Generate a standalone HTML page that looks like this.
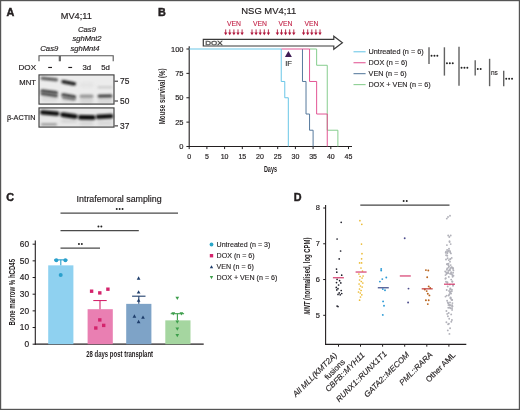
<!DOCTYPE html>
<html><head><meta charset="utf-8"><style>
html,body{margin:0;padding:0;background:#fff;}
body{width:520px;height:410px;overflow:hidden;}
svg{display:block;will-change:transform;font-family:"Liberation Sans", sans-serif;}
</style></head><body>
<svg width="520" height="410" viewBox="0 0 520 410">
<rect x="0" y="0" width="520" height="410" fill="#fff"/>
<text x="6.5" y="15.9" font-size="10.8" text-anchor="start" fill="#231f20" stroke="#231f20" stroke-width="0.45" font-weight="bold" font-style="normal" >A</text>
<text x="60.8" y="19.2" font-size="9.2" text-anchor="start" fill="#231f20" stroke="#231f20" stroke-width="0.18" font-weight="normal" font-style="normal" >MV4;11</text>
<text x="87" y="32.3" font-size="7.7" text-anchor="middle" fill="#231f20" stroke="#231f20" stroke-width="0.18" font-weight="normal" font-style="italic" >Cas9</text>
<text x="87" y="40.9" font-size="7.6" text-anchor="middle" fill="#231f20" stroke="#231f20" stroke-width="0.18" font-weight="normal" font-style="italic" >sghMnt2</text>
<text x="85" y="50.5" font-size="7.6" text-anchor="middle" fill="#231f20" stroke="#231f20" stroke-width="0.18" font-weight="normal" font-style="italic" >sghMnt4</text>
<text x="49.3" y="50.6" font-size="7.7" text-anchor="middle" fill="#231f20" stroke="#231f20" stroke-width="0.18" font-weight="normal" font-style="italic" >Cas9</text>
<path d="M39,61.3 V55.8 H59.3 V61.3" fill="none" stroke="#555" stroke-width="1.1"/>
<path d="M60.3,61.3 V55.8 H113.2 V61.3" fill="none" stroke="#555" stroke-width="1.1"/>
<text x="18.5" y="70.4" font-size="8.1" text-anchor="start" fill="#231f20" stroke="#231f20" stroke-width="0.18" font-weight="normal" font-style="normal" >DOX</text>
<rect x="48.2" y="66.9" width="3.8" height="1.15" fill="#231f20"/>
<rect x="68.3" y="66.9" width="3.8" height="1.15" fill="#231f20"/>
<text x="86.8" y="70.3" font-size="7.8" text-anchor="middle" fill="#231f20" stroke="#231f20" stroke-width="0.18" font-weight="normal" font-style="normal" >3d</text>
<text x="105.5" y="70.3" font-size="7.8" text-anchor="middle" fill="#231f20" stroke="#231f20" stroke-width="0.18" font-weight="normal" font-style="normal" >5d</text>
<text x="19.3" y="85.4" font-size="7.7" text-anchor="start" fill="#231f20" stroke="#231f20" stroke-width="0.18" font-weight="normal" font-style="normal" >MNT</text>
<text x="6.9" y="120.0" font-size="7.3" text-anchor="start" fill="#231f20" stroke="#231f20" stroke-width="0.18" font-weight="normal" font-style="normal" >β-ACTIN</text>
<defs><filter id="bl" x="-20%" y="-200%" width="140%" height="500%"><feGaussianBlur stdDeviation="0.9"/></filter><filter id="bl2" x="-20%" y="-200%" width="140%" height="500%"><feGaussianBlur stdDeviation="1.4"/></filter></defs>
<rect x="39" y="74.9" width="75" height="29.2" fill="#ececec"/>
<rect x="39" y="107.9" width="75" height="19.2" fill="#e8e8e8"/>
<rect x="41" y="95.5" width="17" height="6" rx="3.0" fill="#d8d8d8" opacity="0.8" filter="url(#bl2)" transform="rotate(0 49.5 98.5)"/>
<rect x="61.5" y="97.5" width="14.5" height="5" rx="2.5" fill="#d8d8d8" opacity="0.8" filter="url(#bl2)" transform="rotate(0 68.75 100)"/>
<rect x="79.5" y="97.5" width="14" height="6" rx="3.0" fill="#cfcfcf" opacity="0.8" filter="url(#bl2)" transform="rotate(0 86.5 100.5)"/>
<rect x="97.5" y="97.5" width="15" height="6" rx="3.0" fill="#d2d2d2" opacity="0.8" filter="url(#bl2)" transform="rotate(0 105.0 100.5)"/>
<rect x="79.5" y="82.5" width="14" height="5" rx="2.5" fill="#e2e2e2" opacity="0.8" filter="url(#bl2)" transform="rotate(0 86.5 85)"/>
<rect x="40.6" y="77.4" width="17.4" height="3.2" rx="1.6" fill="#404040" opacity="0.92" filter="url(#bl)" transform="rotate(6 49.3 79.0)"/>
<rect x="40.4" y="90.2" width="17.6" height="3.0" rx="1.5" fill="#333" opacity="0.95" filter="url(#bl)" transform="rotate(7 49.2 91.7)"/>
<rect x="40.4" y="93.2" width="17.6" height="3.0" rx="1.5" fill="#3c3c3c" opacity="0.92" filter="url(#bl)" transform="rotate(8 49.2 94.7)"/>
<rect x="61.2" y="81.05" width="15" height="3.5" rx="1.75" fill="#1c1c1c" opacity="1" filter="url(#bl)" transform="rotate(11 68.7 82.8)"/>
<rect x="61.2" y="94.2" width="15" height="3.0" rx="1.5" fill="#303030" opacity="0.95" filter="url(#bl)" transform="rotate(10 68.7 95.7)"/>
<rect x="61.8" y="97.2" width="14" height="2.2" rx="1.1" fill="#555" opacity="0.85" filter="url(#bl)" transform="rotate(9 68.8 98.3)"/>
<rect x="79.5" y="94.6" width="14" height="3.4" rx="1.7" fill="#8c8c8c" opacity="0.85" filter="url(#bl)" transform="rotate(0 86.5 96.3)"/>
<rect x="97.5" y="94.4" width="15" height="3.0" rx="1.5" fill="#353535" opacity="0.95" filter="url(#bl)" transform="rotate(-1 105.0 95.9)"/>
<rect x="97.5" y="86.0" width="15" height="2.6" rx="1.3" fill="#c8c8c8" opacity="0.8" filter="url(#bl)" transform="rotate(0 105.0 87.3)"/>
<rect x="79.5" y="120.5" width="14" height="5" rx="2.5" fill="#cfcfcf" opacity="0.7" filter="url(#bl2)" transform="rotate(0 86.5 123)"/>
<rect x="97.5" y="120.5" width="15" height="5" rx="2.5" fill="#d2d2d2" opacity="0.7" filter="url(#bl2)" transform="rotate(0 105.0 123)"/>
<rect x="41" y="123.2" width="16" height="2.4" rx="1.2" fill="#888" opacity="0.85" filter="url(#bl)" transform="rotate(0 49.0 124.4)"/>
<rect x="61" y="119.5" width="16" height="3" rx="1.5" fill="#c4c4c4" opacity="0.7" filter="url(#bl2)" transform="rotate(0 69.0 121)"/>
<rect x="40.0" y="110.8" width="19.4" height="4.4" rx="2.2" fill="#0c0c0c" opacity="1" filter="url(#bl)" transform="rotate(5 49.7 113.0)"/>
<rect x="60.2" y="113.19999999999999" width="17.6" height="4.8" rx="2.4" fill="#0c0c0c" opacity="1" filter="url(#bl)" transform="rotate(8 69.0 115.6)"/>
<rect x="78.0" y="115.10000000000001" width="17.6" height="4.6" rx="2.3" fill="#0c0c0c" opacity="1" filter="url(#bl)" transform="rotate(1 86.8 117.4)"/>
<rect x="95.8" y="114.2" width="17.6" height="4.6" rx="2.3" fill="#0c0c0c" opacity="1" filter="url(#bl)" transform="rotate(-3 104.6 116.5)"/>
<rect x="39" y="74.9" width="75" height="29.2" fill="none" stroke="#404040" stroke-width="1.15"/>
<rect x="39" y="107.9" width="75" height="19.2" fill="none" stroke="#404040" stroke-width="1.15"/>
<line x1="114.6" y1="81.2" x2="118" y2="81.2" stroke="#231f20" stroke-width="1" />
<text x="120.0" y="84.2" font-size="8.4" text-anchor="start" fill="#231f20" stroke="#231f20" stroke-width="0.18" font-weight="normal" font-style="normal" >75</text>
<line x1="114.6" y1="101.0" x2="118" y2="101.0" stroke="#231f20" stroke-width="1" />
<text x="120.0" y="104.0" font-size="8.4" text-anchor="start" fill="#231f20" stroke="#231f20" stroke-width="0.18" font-weight="normal" font-style="normal" >50</text>
<line x1="114.6" y1="125.9" x2="118" y2="125.9" stroke="#231f20" stroke-width="1" />
<text x="120.0" y="128.9" font-size="8.4" text-anchor="start" fill="#231f20" stroke="#231f20" stroke-width="0.18" font-weight="normal" font-style="normal" >37</text>
<text x="157.9" y="15.9" font-size="10.8" text-anchor="start" fill="#231f20" stroke="#231f20" stroke-width="0.45" font-weight="bold" font-style="normal" >B</text>
<text x="241.3" y="14.4" font-size="9.45" text-anchor="start" fill="#231f20" stroke="#231f20" stroke-width="0.18" font-weight="normal" font-style="normal" >NSG MV4;11</text>
<text x="227" y="26.1" font-size="6.8" text-anchor="start" fill="#c21f45" stroke="#c21f45" stroke-width="0.18" font-weight="normal" font-style="normal" stroke-opacity="0.55">VEN</text>
<text x="253" y="26.1" font-size="6.8" text-anchor="start" fill="#c21f45" stroke="#c21f45" stroke-width="0.18" font-weight="normal" font-style="normal" stroke-opacity="0.55">VEN</text>
<text x="278.5" y="26.1" font-size="6.8" text-anchor="start" fill="#c21f45" stroke="#c21f45" stroke-width="0.18" font-weight="normal" font-style="normal" stroke-opacity="0.55">VEN</text>
<text x="304.4" y="26.1" font-size="6.8" text-anchor="start" fill="#c21f45" stroke="#c21f45" stroke-width="0.18" font-weight="normal" font-style="normal" stroke-opacity="0.55">VEN</text>
<path d="M225.7,29.4 V33.2" stroke="#b0173c" stroke-width="0.9"/>
<path d="M224.0,32.400000000000006 L227.39999999999998,32.400000000000006 L225.7,35.2 Z" fill="#b0173c"/>
<path d="M229.79999999999998,29.4 V33.2" stroke="#b0173c" stroke-width="0.9"/>
<path d="M228.1,32.400000000000006 L231.49999999999997,32.400000000000006 L229.79999999999998,35.2 Z" fill="#b0173c"/>
<path d="M233.89999999999998,29.4 V33.2" stroke="#b0173c" stroke-width="0.9"/>
<path d="M232.2,32.400000000000006 L235.59999999999997,32.400000000000006 L233.89999999999998,35.2 Z" fill="#b0173c"/>
<path d="M238.0,29.4 V33.2" stroke="#b0173c" stroke-width="0.9"/>
<path d="M236.3,32.400000000000006 L239.7,32.400000000000006 L238.0,35.2 Z" fill="#b0173c"/>
<path d="M242.1,29.4 V33.2" stroke="#b0173c" stroke-width="0.9"/>
<path d="M240.4,32.400000000000006 L243.79999999999998,32.400000000000006 L242.1,35.2 Z" fill="#b0173c"/>
<path d="M252.0,29.4 V33.2" stroke="#b0173c" stroke-width="0.9"/>
<path d="M250.3,32.400000000000006 L253.7,32.400000000000006 L252.0,35.2 Z" fill="#b0173c"/>
<path d="M256.1,29.4 V33.2" stroke="#b0173c" stroke-width="0.9"/>
<path d="M254.40000000000003,32.400000000000006 L257.8,32.400000000000006 L256.1,35.2 Z" fill="#b0173c"/>
<path d="M260.2,29.4 V33.2" stroke="#b0173c" stroke-width="0.9"/>
<path d="M258.5,32.400000000000006 L261.9,32.400000000000006 L260.2,35.2 Z" fill="#b0173c"/>
<path d="M264.3,29.4 V33.2" stroke="#b0173c" stroke-width="0.9"/>
<path d="M262.6,32.400000000000006 L266.0,32.400000000000006 L264.3,35.2 Z" fill="#b0173c"/>
<path d="M268.4,29.4 V33.2" stroke="#b0173c" stroke-width="0.9"/>
<path d="M266.7,32.400000000000006 L270.09999999999997,32.400000000000006 L268.4,35.2 Z" fill="#b0173c"/>
<path d="M277.4,29.4 V33.2" stroke="#b0173c" stroke-width="0.9"/>
<path d="M275.7,32.400000000000006 L279.09999999999997,32.400000000000006 L277.4,35.2 Z" fill="#b0173c"/>
<path d="M281.5,29.4 V33.2" stroke="#b0173c" stroke-width="0.9"/>
<path d="M279.8,32.400000000000006 L283.2,32.400000000000006 L281.5,35.2 Z" fill="#b0173c"/>
<path d="M285.59999999999997,29.4 V33.2" stroke="#b0173c" stroke-width="0.9"/>
<path d="M283.9,32.400000000000006 L287.29999999999995,32.400000000000006 L285.59999999999997,35.2 Z" fill="#b0173c"/>
<path d="M289.7,29.4 V33.2" stroke="#b0173c" stroke-width="0.9"/>
<path d="M288.0,32.400000000000006 L291.4,32.400000000000006 L289.7,35.2 Z" fill="#b0173c"/>
<path d="M293.79999999999995,29.4 V33.2" stroke="#b0173c" stroke-width="0.9"/>
<path d="M292.09999999999997,32.400000000000006 L295.49999999999994,32.400000000000006 L293.79999999999995,35.2 Z" fill="#b0173c"/>
<path d="M303.59999999999997,29.4 V33.2" stroke="#b0173c" stroke-width="0.9"/>
<path d="M301.9,32.400000000000006 L305.29999999999995,32.400000000000006 L303.59999999999997,35.2 Z" fill="#b0173c"/>
<path d="M307.7,29.4 V33.2" stroke="#b0173c" stroke-width="0.9"/>
<path d="M306.0,32.400000000000006 L309.4,32.400000000000006 L307.7,35.2 Z" fill="#b0173c"/>
<path d="M311.79999999999995,29.4 V33.2" stroke="#b0173c" stroke-width="0.9"/>
<path d="M310.09999999999997,32.400000000000006 L313.49999999999994,32.400000000000006 L311.79999999999995,35.2 Z" fill="#b0173c"/>
<path d="M315.9,29.4 V33.2" stroke="#b0173c" stroke-width="0.9"/>
<path d="M314.2,32.400000000000006 L317.59999999999997,32.400000000000006 L315.9,35.2 Z" fill="#b0173c"/>
<path d="M319.99999999999994,29.4 V33.2" stroke="#b0173c" stroke-width="0.9"/>
<path d="M318.29999999999995,32.400000000000006 L321.69999999999993,32.400000000000006 L319.99999999999994,35.2 Z" fill="#b0173c"/>
<path d="M203.3,39.4 H333.8 V36.2 L342.4,42.7 L333.8,49.2 V46.0 H203.3 Z" fill="#fff" stroke="#3a3a3a" stroke-width="1.2" stroke-linejoin="miter"/>
<text transform="translate(205.2,44.8) scale(1.3,1)" font-size="6.2" fill="#fff" stroke="#505050" stroke-width="0.45">DOX</text>
<line x1="189.2" y1="46.2" x2="189.2" y2="147.0" stroke="#231f20" stroke-width="1.1" />
<line x1="188.7" y1="146.5" x2="352" y2="146.5" stroke="#231f20" stroke-width="1.1" />
<line x1="186.39999999999998" y1="146.5" x2="189.2" y2="146.5" stroke="#231f20" stroke-width="1" />
<text x="183.5" y="149.2" font-size="7.5" text-anchor="end" fill="#231f20" stroke="#231f20" stroke-width="0.18" font-weight="normal" font-style="normal" >0</text>
<line x1="186.39999999999998" y1="122.125" x2="189.2" y2="122.125" stroke="#231f20" stroke-width="1" />
<text x="183.5" y="124.825" font-size="7.5" text-anchor="end" fill="#231f20" stroke="#231f20" stroke-width="0.18" font-weight="normal" font-style="normal" >25</text>
<line x1="186.39999999999998" y1="97.75" x2="189.2" y2="97.75" stroke="#231f20" stroke-width="1" />
<text x="183.5" y="100.45" font-size="7.5" text-anchor="end" fill="#231f20" stroke="#231f20" stroke-width="0.18" font-weight="normal" font-style="normal" >50</text>
<line x1="186.39999999999998" y1="73.375" x2="189.2" y2="73.375" stroke="#231f20" stroke-width="1" />
<text x="183.5" y="76.075" font-size="7.5" text-anchor="end" fill="#231f20" stroke="#231f20" stroke-width="0.18" font-weight="normal" font-style="normal" >75</text>
<line x1="186.39999999999998" y1="49.0" x2="189.2" y2="49.0" stroke="#231f20" stroke-width="1" />
<text x="183.5" y="51.7" font-size="7.5" text-anchor="end" fill="#231f20" stroke="#231f20" stroke-width="0.18" font-weight="normal" font-style="normal" >100</text>
<line x1="189.2" y1="146.5" x2="189.2" y2="149.1" stroke="#231f20" stroke-width="1" />
<text x="189.2" y="159.0" font-size="7.0" text-anchor="middle" fill="#231f20" stroke="#231f20" stroke-width="0.18" font-weight="normal" font-style="normal" >0</text>
<line x1="206.89999999999998" y1="146.5" x2="206.89999999999998" y2="149.1" stroke="#231f20" stroke-width="1" />
<text x="206.89999999999998" y="159.0" font-size="7.0" text-anchor="middle" fill="#231f20" stroke="#231f20" stroke-width="0.18" font-weight="normal" font-style="normal" >5</text>
<line x1="224.6" y1="146.5" x2="224.6" y2="149.1" stroke="#231f20" stroke-width="1" />
<text x="224.6" y="159.0" font-size="7.0" text-anchor="middle" fill="#231f20" stroke="#231f20" stroke-width="0.18" font-weight="normal" font-style="normal" >10</text>
<line x1="242.29999999999998" y1="146.5" x2="242.29999999999998" y2="149.1" stroke="#231f20" stroke-width="1" />
<text x="242.29999999999998" y="159.0" font-size="7.0" text-anchor="middle" fill="#231f20" stroke="#231f20" stroke-width="0.18" font-weight="normal" font-style="normal" >15</text>
<line x1="260.0" y1="146.5" x2="260.0" y2="149.1" stroke="#231f20" stroke-width="1" />
<text x="260.0" y="159.0" font-size="7.0" text-anchor="middle" fill="#231f20" stroke="#231f20" stroke-width="0.18" font-weight="normal" font-style="normal" >20</text>
<line x1="277.7" y1="146.5" x2="277.7" y2="149.1" stroke="#231f20" stroke-width="1" />
<text x="277.7" y="159.0" font-size="7.0" text-anchor="middle" fill="#231f20" stroke="#231f20" stroke-width="0.18" font-weight="normal" font-style="normal" >25</text>
<line x1="295.4" y1="146.5" x2="295.4" y2="149.1" stroke="#231f20" stroke-width="1" />
<text x="295.4" y="159.0" font-size="7.0" text-anchor="middle" fill="#231f20" stroke="#231f20" stroke-width="0.18" font-weight="normal" font-style="normal" >30</text>
<line x1="313.1" y1="146.5" x2="313.1" y2="149.1" stroke="#231f20" stroke-width="1" />
<text x="313.1" y="159.0" font-size="7.0" text-anchor="middle" fill="#231f20" stroke="#231f20" stroke-width="0.18" font-weight="normal" font-style="normal" >35</text>
<line x1="330.79999999999995" y1="146.5" x2="330.79999999999995" y2="149.1" stroke="#231f20" stroke-width="1" />
<text x="330.79999999999995" y="159.0" font-size="7.0" text-anchor="middle" fill="#231f20" stroke="#231f20" stroke-width="0.18" font-weight="normal" font-style="normal" >40</text>
<line x1="348.5" y1="146.5" x2="348.5" y2="149.1" stroke="#231f20" stroke-width="1" />
<text x="348.5" y="159.0" font-size="7.0" text-anchor="middle" fill="#231f20" stroke="#231f20" stroke-width="0.18" font-weight="normal" font-style="normal" >45</text>
<text transform="translate(165.4,96.4) rotate(-90) scale(0.7449,1)" font-size="8.3" text-anchor="middle" fill="#231f20" font-weight="bold">Mouse survival (%)</text>
<text transform="translate(270.45,171.7) scale(0.5957,1)" font-size="9.2" text-anchor="middle" fill="#231f20" font-weight="bold">Days</text>
<path d="M309.56,49.00 L316.64,49.00 L316.64,65.28 L327.26,65.28 L327.26,130.22 L337.88,130.22 L337.88,146.50" fill="none" stroke="#80ca88" stroke-width="0.95"/>
<path d="M302.48,49.00 L302.48,81.47 L306.02,81.47 L306.02,114.03 L309.56,114.03 L309.56,130.22 L313.10,130.22 L313.10,146.50" fill="none" stroke="#4e7398" stroke-width="0.95"/>
<path d="M281.24,49.00 L309.56,49.00 L309.56,81.47 L316.64,81.47 L316.64,114.03 L327.26,114.03 L327.26,146.50" fill="none" stroke="#e04d8e" stroke-width="0.95"/>
<path d="M189.20,49.00 L281.24,49.00 L281.24,81.47 L284.78,81.47 L284.78,97.75 L288.32,97.75 L288.32,146.50" fill="none" stroke="#62c3e6" stroke-width="0.95"/>
<path d="M284.9,57.1 L291.9,57.1 L288.4,51.1 Z" fill="#3f1d55"/>
<text x="288.6" y="65.6" font-size="7.6" text-anchor="middle" fill="#333" stroke="#333" stroke-width="0.18" font-weight="normal" font-style="normal" >IF</text>
<line x1="353.5" y1="51.8" x2="365.6" y2="51.8" stroke="#62c3e6" stroke-width="1" />
<text x="368.6" y="54.4" font-size="7.25" text-anchor="start" fill="#231f20" stroke="#231f20" stroke-width="0.14" font-weight="normal" font-style="normal" >Untreated (n = 6)</text>
<line x1="353.5" y1="62.75" x2="365.6" y2="62.75" stroke="#e04d8e" stroke-width="1" />
<text x="368.6" y="65.35" font-size="7.25" text-anchor="start" fill="#231f20" stroke="#231f20" stroke-width="0.14" font-weight="normal" font-style="normal" >DOX (n = 6)</text>
<line x1="353.5" y1="73.69999999999999" x2="365.6" y2="73.69999999999999" stroke="#4e7398" stroke-width="1" />
<text x="368.6" y="76.29999999999998" font-size="7.25" text-anchor="start" fill="#231f20" stroke="#231f20" stroke-width="0.14" font-weight="normal" font-style="normal" >VEN (n = 6)</text>
<line x1="353.5" y1="84.64999999999999" x2="365.6" y2="84.64999999999999" stroke="#80ca88" stroke-width="1" />
<text x="368.6" y="87.24999999999999" font-size="7.25" text-anchor="start" fill="#231f20" stroke="#231f20" stroke-width="0.14" font-weight="normal" font-style="normal" >DOX + VEN (n = 6)</text>
<line x1="429" y1="47.3" x2="429" y2="64" stroke="#626262" stroke-width="1.4" />
<circle cx="431.55" cy="55.699999999999996" r="0.98" fill="#222"/>
<circle cx="434.45" cy="55.699999999999996" r="0.98" fill="#222"/>
<circle cx="437.35" cy="55.699999999999996" r="0.98" fill="#222"/>
<line x1="444.4" y1="47.3" x2="444.4" y2="75.6" stroke="#626262" stroke-width="1.4" />
<circle cx="446.95" cy="63.3" r="0.98" fill="#222"/>
<circle cx="449.85" cy="63.3" r="0.98" fill="#222"/>
<circle cx="452.75" cy="63.3" r="0.98" fill="#222"/>
<line x1="459" y1="46.7" x2="459" y2="85.8" stroke="#626262" stroke-width="1.4" />
<circle cx="461.55" cy="67.8" r="0.98" fill="#222"/>
<circle cx="464.45" cy="67.8" r="0.98" fill="#222"/>
<circle cx="467.35" cy="67.8" r="0.98" fill="#222"/>
<line x1="475.2" y1="60.2" x2="475.2" y2="75.6" stroke="#626262" stroke-width="1.4" />
<circle cx="477.78" cy="69.1" r="0.98" fill="#222"/>
<circle cx="480.68" cy="69.1" r="0.98" fill="#222"/>
<line x1="489.6" y1="58.8" x2="489.6" y2="86.2" stroke="#626262" stroke-width="1.4" />
<text x="490.90000000000003" y="74.9" font-size="6.5" text-anchor="start" fill="#231f20" stroke="#231f20" stroke-width="0.12" font-weight="normal" font-style="normal" >ns</text>
<line x1="503.7" y1="70.8" x2="503.7" y2="86.2" stroke="#626262" stroke-width="1.4" />
<circle cx="506.25" cy="78.8" r="0.98" fill="#222"/>
<circle cx="509.15" cy="78.8" r="0.98" fill="#222"/>
<circle cx="512.05" cy="78.8" r="0.98" fill="#222"/>
<text x="6.3" y="200.9" font-size="10.8" text-anchor="start" fill="#231f20" stroke="#231f20" stroke-width="0.45" font-weight="bold" font-style="normal" >C</text>
<text x="76.6" y="201.8" font-size="8.85" text-anchor="start" fill="#231f20" stroke="#231f20" stroke-width="0.18" font-weight="normal" font-style="normal" >Intrafemoral sampling</text>
<line x1="60.5" y1="213.2" x2="178" y2="213.2" stroke="#4a4a4a" stroke-width="1.25" />
<circle cx="116.75" cy="209.1" r="0.98" fill="#222"/>
<circle cx="119.65" cy="209.1" r="0.98" fill="#222"/>
<circle cx="122.55" cy="209.1" r="0.98" fill="#222"/>
<line x1="60.5" y1="230.6" x2="138.8" y2="230.6" stroke="#4a4a4a" stroke-width="1.25" />
<circle cx="98.45" cy="226.6" r="0.98" fill="#222"/>
<circle cx="101.35" cy="226.6" r="0.98" fill="#222"/>
<line x1="60.5" y1="248.0" x2="100" y2="248.0" stroke="#4a4a4a" stroke-width="1.25" />
<circle cx="78.95" cy="243.9" r="0.98" fill="#222"/>
<circle cx="81.85" cy="243.9" r="0.98" fill="#222"/>
<line x1="35.3" y1="240.5" x2="35.3" y2="344.7" stroke="#231f20" stroke-width="1.1" />
<line x1="34.8" y1="344.2" x2="203.7" y2="344.2" stroke="#231f20" stroke-width="1.2" />
<line x1="32.599999999999994" y1="344.2" x2="35.3" y2="344.2" stroke="#231f20" stroke-width="1" />
<text x="29.0" y="347.09999999999997" font-size="8.3" text-anchor="end" fill="#231f20" stroke="#231f20" stroke-width="0.18" font-weight="normal" font-style="normal" >0</text>
<line x1="32.599999999999994" y1="327.53" x2="35.3" y2="327.53" stroke="#231f20" stroke-width="1" />
<text x="29.0" y="330.42999999999995" font-size="8.3" text-anchor="end" fill="#231f20" stroke="#231f20" stroke-width="0.18" font-weight="normal" font-style="normal" >10</text>
<line x1="32.599999999999994" y1="310.86" x2="35.3" y2="310.86" stroke="#231f20" stroke-width="1" />
<text x="29.0" y="313.76" font-size="8.3" text-anchor="end" fill="#231f20" stroke="#231f20" stroke-width="0.18" font-weight="normal" font-style="normal" >20</text>
<line x1="32.599999999999994" y1="294.19" x2="35.3" y2="294.19" stroke="#231f20" stroke-width="1" />
<text x="29.0" y="297.09" font-size="8.3" text-anchor="end" fill="#231f20" stroke="#231f20" stroke-width="0.18" font-weight="normal" font-style="normal" >30</text>
<line x1="32.599999999999994" y1="277.52" x2="35.3" y2="277.52" stroke="#231f20" stroke-width="1" />
<text x="29.0" y="280.41999999999996" font-size="8.3" text-anchor="end" fill="#231f20" stroke="#231f20" stroke-width="0.18" font-weight="normal" font-style="normal" >40</text>
<line x1="32.599999999999994" y1="260.84999999999997" x2="35.3" y2="260.84999999999997" stroke="#231f20" stroke-width="1" />
<text x="29.0" y="263.74999999999994" font-size="8.3" text-anchor="end" fill="#231f20" stroke="#231f20" stroke-width="0.18" font-weight="normal" font-style="normal" >50</text>
<line x1="32.599999999999994" y1="244.18" x2="35.3" y2="244.18" stroke="#231f20" stroke-width="1" />
<text x="29.0" y="247.08" font-size="8.3" text-anchor="end" fill="#231f20" stroke="#231f20" stroke-width="0.18" font-weight="normal" font-style="normal" >60</text>
<text transform="translate(14.8,292.2) rotate(-90) scale(0.6716,1)" font-size="9.0" text-anchor="middle" fill="#231f20" font-weight="bold">Bone marrow % hCD45</text>
<text transform="translate(119.65,356.9) scale(0.6520,1)" font-size="9.2" text-anchor="middle" fill="#231f20" font-weight="bold">28 days post transplant</text>
<rect x="48.2" y="265.35" width="25.2" height="78.85" fill="#8fd1f0"/>
<rect x="87.6" y="309.19" width="25.2" height="35.01" fill="#e97fb2"/>
<rect x="126.2" y="303.86" width="25.2" height="40.34" fill="#7ea3c7"/>
<rect x="165.3" y="320.36" width="25.2" height="23.84" fill="#a5d6a0"/>
<line x1="60.8" y1="265.3509" x2="60.8" y2="259.84979999999996" stroke="#2aa0cc" stroke-width="1.1" />
<line x1="54.099999999999994" y1="259.84979999999996" x2="67.5" y2="259.84979999999996" stroke="#2aa0cc" stroke-width="1.1" />
<line x1="100.0" y1="309.193" x2="100.0" y2="300.52459999999996" stroke="#d4246c" stroke-width="1.1" />
<line x1="93.3" y1="300.52459999999996" x2="106.7" y2="300.52459999999996" stroke="#d4246c" stroke-width="1.1" />
<line x1="138.8" y1="303.85859999999997" x2="138.8" y2="296.1904" stroke="#1e3d6b" stroke-width="1.1" />
<line x1="132.10000000000002" y1="296.1904" x2="145.5" y2="296.1904" stroke="#1e3d6b" stroke-width="1.1" />
<line x1="177.4" y1="320.3619" x2="177.4" y2="313.6939" stroke="#3d9e4b" stroke-width="1.1" />
<line x1="170.70000000000002" y1="313.6939" x2="184.1" y2="313.6939" stroke="#3d9e4b" stroke-width="1.1" />
<circle cx="56.3" cy="260.2" r="2.0" fill="#2aa0cc"/>
<circle cx="65.4" cy="260.2" r="2.0" fill="#2aa0cc"/>
<circle cx="60.7" cy="274.9" r="2.0" fill="#2aa0cc"/>
<rect x="89.89999999999999" y="289.5" width="3.4" height="3.4" fill="#d4246c"/>
<rect x="98.1" y="291.2" width="3.4" height="3.4" fill="#d4246c"/>
<rect x="106.2" y="287.5" width="3.4" height="3.4" fill="#d4246c"/>
<rect x="98.1" y="318.2" width="3.4" height="3.4" fill="#d4246c"/>
<rect x="94.1" y="326.3" width="3.4" height="3.4" fill="#d4246c"/>
<rect x="102.0" y="323.7" width="3.4" height="3.4" fill="#d4246c"/>
<path d="M136.75,279.665 L140.45,279.665 L138.6,276.335 Z" fill="#1e3d6b"/>
<path d="M136.75,293.46500000000003 L140.45,293.46500000000003 L138.6,290.135 Z" fill="#1e3d6b"/>
<path d="M136.75,301.865 L140.45,301.865 L138.6,298.53499999999997 Z" fill="#1e3d6b"/>
<path d="M132.55,317.665 L136.25,317.665 L134.4,314.335 Z" fill="#1e3d6b"/>
<path d="M141.15,318.76500000000004 L144.85,318.76500000000004 L143,315.435 Z" fill="#1e3d6b"/>
<path d="M136.75,323.165 L140.45,323.165 L138.6,319.835 Z" fill="#1e3d6b"/>
<path d="M175.45000000000002,296.73499999999996 L179.15,296.73499999999996 L177.3,300.065 Z" fill="#3d9e4b"/>
<path d="M171.45000000000002,312.135 L175.15,312.135 L173.3,315.46500000000003 Z" fill="#3d9e4b"/>
<path d="M179.55,312.135 L183.25,312.135 L181.4,315.46500000000003 Z" fill="#3d9e4b"/>
<path d="M175.45000000000002,320.435 L179.15,320.435 L177.3,323.76500000000004 Z" fill="#3d9e4b"/>
<path d="M175.45000000000002,327.53499999999997 L179.15,327.53499999999997 L177.3,330.865 Z" fill="#3d9e4b"/>
<path d="M175.45000000000002,334.03499999999997 L179.15,334.03499999999997 L177.3,337.365 Z" fill="#3d9e4b"/>
<circle cx="211.5" cy="244.5" r="1.9" fill="#2aa6c8"/>
<rect x="209.8" y="254.0" width="3.4" height="3.4" fill="#d4246c"/>
<path d="M209.8,268.33 L213.2,268.33 L211.5,265.27000000000004 Z" fill="#1e3d6b"/>
<path d="M209.8,276.07000000000005 L213.2,276.07000000000005 L211.5,279.13 Z" fill="#3d9e4b"/>
<text x="216.5" y="247.15" font-size="7.12" text-anchor="start" fill="#231f20" stroke="#231f20" stroke-width="0.12" font-weight="normal" font-style="normal" >Untreated (n = 3)</text>
<text x="216.5" y="258.34999999999997" font-size="7.12" text-anchor="start" fill="#231f20" stroke="#231f20" stroke-width="0.12" font-weight="normal" font-style="normal" >DOX (n = 6)</text>
<text x="216.5" y="269.45" font-size="7.12" text-anchor="start" fill="#231f20" stroke="#231f20" stroke-width="0.12" font-weight="normal" font-style="normal" >VEN (n = 6)</text>
<text x="216.5" y="280.25" font-size="7.12" text-anchor="start" fill="#231f20" stroke="#231f20" stroke-width="0.12" font-weight="normal" font-style="normal" >DOX + VEN (n = 6)</text>
<text x="293.7" y="200.6" font-size="10.8" text-anchor="start" fill="#231f20" stroke="#231f20" stroke-width="0.45" font-weight="bold" font-style="normal" >D</text>
<line x1="325.6" y1="205" x2="325.6" y2="344.9" stroke="#231f20" stroke-width="1.1" />
<line x1="325.1" y1="344.4" x2="466.3" y2="344.4" stroke="#231f20" stroke-width="1.1" />
<line x1="323.20000000000005" y1="208.0" x2="325.6" y2="208.0" stroke="#231f20" stroke-width="1" />
<text x="319.8" y="210.45" font-size="7.5" text-anchor="end" fill="#231f20" stroke="#231f20" stroke-width="0.18" font-weight="normal" font-style="normal" >8</text>
<line x1="323.20000000000005" y1="243.77" x2="325.6" y2="243.77" stroke="#231f20" stroke-width="1" />
<text x="319.8" y="246.22" font-size="7.5" text-anchor="end" fill="#231f20" stroke="#231f20" stroke-width="0.18" font-weight="normal" font-style="normal" >7</text>
<line x1="323.20000000000005" y1="279.54" x2="325.6" y2="279.54" stroke="#231f20" stroke-width="1" />
<text x="319.8" y="281.99" font-size="7.5" text-anchor="end" fill="#231f20" stroke="#231f20" stroke-width="0.18" font-weight="normal" font-style="normal" >6</text>
<line x1="323.20000000000005" y1="315.31" x2="325.6" y2="315.31" stroke="#231f20" stroke-width="1" />
<text x="319.8" y="317.76" font-size="7.5" text-anchor="end" fill="#231f20" stroke="#231f20" stroke-width="0.18" font-weight="normal" font-style="normal" >5</text>
<line x1="338.5" y1="344.4" x2="338.5" y2="346.7" stroke="#231f20" stroke-width="1" />
<line x1="360.5" y1="344.4" x2="360.5" y2="346.7" stroke="#231f20" stroke-width="1" />
<line x1="382.6" y1="344.4" x2="382.6" y2="346.7" stroke="#231f20" stroke-width="1" />
<line x1="404.7" y1="344.4" x2="404.7" y2="346.7" stroke="#231f20" stroke-width="1" />
<line x1="426.8" y1="344.4" x2="426.8" y2="346.7" stroke="#231f20" stroke-width="1" />
<line x1="448.9" y1="344.4" x2="448.9" y2="346.7" stroke="#231f20" stroke-width="1" />
<text transform="translate(310.0,276) rotate(-90) scale(0.6888,1)" font-size="8.6" text-anchor="middle" fill="#231f20" font-weight="bold"><tspan font-style="italic">MNT</tspan> (normalised, log CPM)</text>
<line x1="360.3" y1="205.1" x2="449.5" y2="205.1" stroke="#444" stroke-width="1.1" />
<circle cx="403.65" cy="200.9" r="0.98" fill="#222"/>
<circle cx="406.75" cy="200.9" r="0.98" fill="#222"/>
<circle cx="341.2" cy="222.3" r="0.85" fill="#1f1f2a"/>
<circle cx="337.1" cy="239.0" r="0.85" fill="#1f1f2a"/>
<circle cx="340.6" cy="251.0" r="0.85" fill="#1f1f2a"/>
<circle cx="339.2" cy="258.9" r="0.85" fill="#1f1f2a"/>
<circle cx="336.5" cy="269.1" r="0.85" fill="#1f1f2a"/>
<circle cx="336.8" cy="272.2" r="0.85" fill="#1f1f2a"/>
<circle cx="341.7" cy="275.2" r="0.85" fill="#1f1f2a"/>
<circle cx="337.1" cy="279.3" r="0.85" fill="#1f1f2a"/>
<circle cx="339.6" cy="280.7" r="0.85" fill="#1f1f2a"/>
<circle cx="336.5" cy="282.6" r="0.85" fill="#1f1f2a"/>
<circle cx="340.8" cy="282.9" r="0.85" fill="#1f1f2a"/>
<circle cx="336.3" cy="287.4" r="0.85" fill="#1f1f2a"/>
<circle cx="338.0" cy="288.7" r="0.85" fill="#1f1f2a"/>
<circle cx="336.8" cy="289.9" r="0.85" fill="#1f1f2a"/>
<circle cx="341.2" cy="290.5" r="0.85" fill="#1f1f2a"/>
<circle cx="339.2" cy="292.9" r="0.85" fill="#1f1f2a"/>
<circle cx="341.7" cy="293.5" r="0.85" fill="#1f1f2a"/>
<circle cx="340.2" cy="294.8" r="0.85" fill="#1f1f2a"/>
<circle cx="338.0" cy="294.4" r="0.85" fill="#1f1f2a"/>
<circle cx="337.1" cy="306.1" r="0.85" fill="#1f1f2a"/>
<circle cx="338.0" cy="306.6" r="0.85" fill="#1f1f2a"/>
<circle cx="338.6" cy="285.0" r="0.85" fill="#1f1f2a"/>
<circle cx="359.9" cy="220.7" r="0.85" fill="#ecbb36"/>
<circle cx="361.8" cy="224.3" r="0.85" fill="#ecbb36"/>
<circle cx="361.5" cy="244.1" r="0.85" fill="#ecbb36"/>
<circle cx="362.0" cy="253.7" r="0.85" fill="#ecbb36"/>
<circle cx="361.6" cy="258.8" r="0.85" fill="#ecbb36"/>
<circle cx="359.6" cy="262.9" r="0.85" fill="#ecbb36"/>
<circle cx="361.6" cy="262.9" r="0.85" fill="#ecbb36"/>
<circle cx="361.0" cy="268.0" r="0.85" fill="#ecbb36"/>
<circle cx="362.5" cy="271.0" r="0.85" fill="#ecbb36"/>
<circle cx="358.9" cy="274.0" r="0.85" fill="#ecbb36"/>
<circle cx="360.1" cy="276.5" r="0.85" fill="#ecbb36"/>
<circle cx="362.1" cy="278.0" r="0.85" fill="#ecbb36"/>
<circle cx="359.6" cy="280.0" r="0.85" fill="#ecbb36"/>
<circle cx="361.3" cy="281.5" r="0.85" fill="#ecbb36"/>
<circle cx="359.1" cy="284.0" r="0.85" fill="#ecbb36"/>
<circle cx="360.5" cy="286.0" r="0.85" fill="#ecbb36"/>
<circle cx="362.2" cy="287.0" r="0.85" fill="#ecbb36"/>
<circle cx="359.5" cy="289.0" r="0.85" fill="#ecbb36"/>
<circle cx="361.1" cy="290.5" r="0.85" fill="#ecbb36"/>
<circle cx="362.8" cy="283.0" r="0.85" fill="#ecbb36"/>
<circle cx="358.5" cy="292.0" r="0.85" fill="#ecbb36"/>
<circle cx="360.3" cy="293.0" r="0.85" fill="#ecbb36"/>
<circle cx="361.8" cy="294.8" r="0.85" fill="#ecbb36"/>
<circle cx="360.5" cy="297.0" r="0.85" fill="#ecbb36"/>
<circle cx="359.6" cy="300.2" r="0.85" fill="#ecbb36"/>
<circle cx="363.1" cy="276.0" r="0.85" fill="#ecbb36"/>
<circle cx="381.2" cy="268.9" r="0.95" fill="#2e9bd6"/>
<circle cx="381.2" cy="270.5" r="0.95" fill="#2e9bd6"/>
<circle cx="386.3" cy="277.5" r="0.95" fill="#2e9bd6"/>
<circle cx="382.3" cy="279.1" r="0.95" fill="#2e9bd6"/>
<circle cx="379.9" cy="281.6" r="0.95" fill="#2e9bd6"/>
<circle cx="382.8" cy="289.1" r="0.95" fill="#2e9bd6"/>
<circle cx="385.0" cy="290.2" r="0.95" fill="#2e9bd6"/>
<circle cx="383.1" cy="301.4" r="0.95" fill="#2e9bd6"/>
<circle cx="384.0" cy="305.7" r="0.95" fill="#2e9bd6"/>
<circle cx="382.8" cy="314.9" r="0.95" fill="#2e9bd6"/>
<circle cx="404.7" cy="238.2" r="0.95" fill="#4c4c8c"/>
<circle cx="408.5" cy="288.6" r="0.95" fill="#4c4c8c"/>
<circle cx="408.1" cy="302.5" r="0.95" fill="#4c4c8c"/>
<circle cx="425.9" cy="270.1" r="0.95" fill="#b8641e"/>
<circle cx="428.3" cy="270.5" r="0.95" fill="#b8641e"/>
<circle cx="427.2" cy="277.2" r="0.95" fill="#b8641e"/>
<circle cx="428.7" cy="286.4" r="0.95" fill="#b8641e"/>
<circle cx="426.7" cy="291.1" r="0.95" fill="#b8641e"/>
<circle cx="427.8" cy="293.8" r="0.95" fill="#b8641e"/>
<circle cx="429.4" cy="295.4" r="0.95" fill="#b8641e"/>
<circle cx="425.9" cy="300.2" r="0.95" fill="#b8641e"/>
<circle cx="428.7" cy="300.2" r="0.95" fill="#b8641e"/>
<circle cx="427.8" cy="304.1" r="0.95" fill="#b8641e"/>
<circle cx="424.8" cy="289.5" r="0.95" fill="#b8641e"/>
<circle cx="430.2" cy="288.0" r="0.95" fill="#b8641e"/>
<circle cx="448.0" cy="217.0" r="0.95" fill="#b2b2ba"/>
<circle cx="450.0" cy="215.8" r="0.95" fill="#b2b2ba"/>
<circle cx="446.8" cy="218.6" r="0.95" fill="#b2b2ba"/>
<circle cx="449.5" cy="241.2" r="0.95" fill="#b2b2ba"/>
<circle cx="449.0" cy="248.8" r="0.95" fill="#b2b2ba"/>
<circle cx="449.6" cy="242.1" r="0.95" fill="#b2b2ba"/>
<circle cx="449.3" cy="237.0" r="0.95" fill="#b2b2ba"/>
<circle cx="450.7" cy="244.1" r="0.95" fill="#b2b2ba"/>
<circle cx="448.2" cy="235.5" r="0.95" fill="#b2b2ba"/>
<circle cx="450.7" cy="235.5" r="0.95" fill="#b2b2ba"/>
<circle cx="446.9" cy="245.1" r="0.95" fill="#b2b2ba"/>
<circle cx="452.5" cy="267.7" r="0.95" fill="#b2b2ba"/>
<circle cx="450.0" cy="261.8" r="0.95" fill="#b2b2ba"/>
<circle cx="445.7" cy="252.8" r="0.95" fill="#b2b2ba"/>
<circle cx="446.0" cy="259.5" r="0.95" fill="#b2b2ba"/>
<circle cx="447.3" cy="253.4" r="0.95" fill="#b2b2ba"/>
<circle cx="448.9" cy="250.5" r="0.95" fill="#b2b2ba"/>
<circle cx="451.7" cy="257.9" r="0.95" fill="#b2b2ba"/>
<circle cx="450.2" cy="259.3" r="0.95" fill="#b2b2ba"/>
<circle cx="450.4" cy="259.0" r="0.95" fill="#b2b2ba"/>
<circle cx="447.6" cy="258.2" r="0.95" fill="#b2b2ba"/>
<circle cx="452.8" cy="268.0" r="0.95" fill="#b2b2ba"/>
<circle cx="450.7" cy="265.1" r="0.95" fill="#b2b2ba"/>
<circle cx="447.3" cy="255.7" r="0.95" fill="#b2b2ba"/>
<circle cx="446.1" cy="255.2" r="0.95" fill="#b2b2ba"/>
<circle cx="448.5" cy="263.8" r="0.95" fill="#b2b2ba"/>
<circle cx="448.4" cy="265.2" r="0.95" fill="#b2b2ba"/>
<circle cx="451.7" cy="267.2" r="0.95" fill="#b2b2ba"/>
<circle cx="447.1" cy="250.0" r="0.95" fill="#b2b2ba"/>
<circle cx="449.0" cy="266.4" r="0.95" fill="#b2b2ba"/>
<circle cx="448.5" cy="267.6" r="0.95" fill="#b2b2ba"/>
<circle cx="450.1" cy="251.3" r="0.95" fill="#b2b2ba"/>
<circle cx="447.5" cy="264.0" r="0.95" fill="#b2b2ba"/>
<circle cx="448.0" cy="251.6" r="0.95" fill="#b2b2ba"/>
<circle cx="451.1" cy="267.4" r="0.95" fill="#b2b2ba"/>
<circle cx="447.4" cy="252.1" r="0.95" fill="#b2b2ba"/>
<circle cx="446.0" cy="251.8" r="0.95" fill="#b2b2ba"/>
<circle cx="446.9" cy="264.3" r="0.95" fill="#b2b2ba"/>
<circle cx="448.8" cy="260.1" r="0.95" fill="#b2b2ba"/>
<circle cx="450.9" cy="253.4" r="0.95" fill="#b2b2ba"/>
<circle cx="450.2" cy="252.4" r="0.95" fill="#b2b2ba"/>
<circle cx="448.5" cy="270.8" r="0.95" fill="#b2b2ba"/>
<circle cx="447.2" cy="273.1" r="0.95" fill="#b2b2ba"/>
<circle cx="451.8" cy="291.3" r="0.95" fill="#b2b2ba"/>
<circle cx="452.5" cy="275.3" r="0.95" fill="#b2b2ba"/>
<circle cx="448.3" cy="273.1" r="0.95" fill="#b2b2ba"/>
<circle cx="450.4" cy="288.5" r="0.95" fill="#b2b2ba"/>
<circle cx="453.4" cy="270.4" r="0.95" fill="#b2b2ba"/>
<circle cx="447.1" cy="273.1" r="0.95" fill="#b2b2ba"/>
<circle cx="447.7" cy="286.5" r="0.95" fill="#b2b2ba"/>
<circle cx="445.5" cy="275.1" r="0.95" fill="#b2b2ba"/>
<circle cx="449.9" cy="270.2" r="0.95" fill="#b2b2ba"/>
<circle cx="450.1" cy="273.8" r="0.95" fill="#b2b2ba"/>
<circle cx="448.8" cy="276.9" r="0.95" fill="#b2b2ba"/>
<circle cx="449.1" cy="291.0" r="0.95" fill="#b2b2ba"/>
<circle cx="452.4" cy="281.8" r="0.95" fill="#b2b2ba"/>
<circle cx="446.2" cy="272.4" r="0.95" fill="#b2b2ba"/>
<circle cx="451.9" cy="289.8" r="0.95" fill="#b2b2ba"/>
<circle cx="446.5" cy="274.0" r="0.95" fill="#b2b2ba"/>
<circle cx="453.0" cy="285.7" r="0.95" fill="#b2b2ba"/>
<circle cx="453.1" cy="272.7" r="0.95" fill="#b2b2ba"/>
<circle cx="450.1" cy="289.2" r="0.95" fill="#b2b2ba"/>
<circle cx="445.8" cy="278.1" r="0.95" fill="#b2b2ba"/>
<circle cx="453.2" cy="268.9" r="0.95" fill="#b2b2ba"/>
<circle cx="451.0" cy="273.7" r="0.95" fill="#b2b2ba"/>
<circle cx="452.0" cy="274.2" r="0.95" fill="#b2b2ba"/>
<circle cx="447.4" cy="282.3" r="0.95" fill="#b2b2ba"/>
<circle cx="451.1" cy="272.2" r="0.95" fill="#b2b2ba"/>
<circle cx="446.9" cy="269.7" r="0.95" fill="#b2b2ba"/>
<circle cx="452.2" cy="281.4" r="0.95" fill="#b2b2ba"/>
<circle cx="447.3" cy="282.7" r="0.95" fill="#b2b2ba"/>
<circle cx="446.7" cy="290.0" r="0.95" fill="#b2b2ba"/>
<circle cx="447.2" cy="268.4" r="0.95" fill="#b2b2ba"/>
<circle cx="445.4" cy="278.7" r="0.95" fill="#b2b2ba"/>
<circle cx="448.1" cy="272.2" r="0.95" fill="#b2b2ba"/>
<circle cx="446.0" cy="281.7" r="0.95" fill="#b2b2ba"/>
<circle cx="452.6" cy="276.7" r="0.95" fill="#b2b2ba"/>
<circle cx="450.5" cy="291.5" r="0.95" fill="#b2b2ba"/>
<circle cx="449.9" cy="284.6" r="0.95" fill="#b2b2ba"/>
<circle cx="445.2" cy="271.4" r="0.95" fill="#b2b2ba"/>
<circle cx="452.7" cy="268.4" r="0.95" fill="#b2b2ba"/>
<circle cx="453.2" cy="284.8" r="0.95" fill="#b2b2ba"/>
<circle cx="450.4" cy="268.5" r="0.95" fill="#b2b2ba"/>
<circle cx="451.2" cy="279.6" r="0.95" fill="#b2b2ba"/>
<circle cx="453.5" cy="275.7" r="0.95" fill="#b2b2ba"/>
<circle cx="449.6" cy="269.8" r="0.95" fill="#b2b2ba"/>
<circle cx="452.2" cy="305.3" r="0.95" fill="#b2b2ba"/>
<circle cx="450.7" cy="305.3" r="0.95" fill="#b2b2ba"/>
<circle cx="452.4" cy="306.3" r="0.95" fill="#b2b2ba"/>
<circle cx="450.6" cy="298.3" r="0.95" fill="#b2b2ba"/>
<circle cx="452.0" cy="308.2" r="0.95" fill="#b2b2ba"/>
<circle cx="451.4" cy="299.5" r="0.95" fill="#b2b2ba"/>
<circle cx="449.8" cy="307.5" r="0.95" fill="#b2b2ba"/>
<circle cx="448.3" cy="303.2" r="0.95" fill="#b2b2ba"/>
<circle cx="450.0" cy="302.5" r="0.95" fill="#b2b2ba"/>
<circle cx="450.3" cy="293.4" r="0.95" fill="#b2b2ba"/>
<circle cx="452.1" cy="309.9" r="0.95" fill="#b2b2ba"/>
<circle cx="448.4" cy="305.1" r="0.95" fill="#b2b2ba"/>
<circle cx="449.8" cy="305.2" r="0.95" fill="#b2b2ba"/>
<circle cx="451.8" cy="299.9" r="0.95" fill="#b2b2ba"/>
<circle cx="451.1" cy="293.5" r="0.95" fill="#b2b2ba"/>
<circle cx="450.0" cy="292.5" r="0.95" fill="#b2b2ba"/>
<circle cx="447.1" cy="300.7" r="0.95" fill="#b2b2ba"/>
<circle cx="449.2" cy="304.6" r="0.95" fill="#b2b2ba"/>
<circle cx="452.4" cy="303.1" r="0.95" fill="#b2b2ba"/>
<circle cx="445.5" cy="296.6" r="0.95" fill="#b2b2ba"/>
<circle cx="450.6" cy="297.4" r="0.95" fill="#b2b2ba"/>
<circle cx="446.7" cy="295.6" r="0.95" fill="#b2b2ba"/>
<circle cx="450.4" cy="308.3" r="0.95" fill="#b2b2ba"/>
<circle cx="452.2" cy="300.0" r="0.95" fill="#b2b2ba"/>
<circle cx="450.5" cy="297.9" r="0.95" fill="#b2b2ba"/>
<circle cx="448.7" cy="295.6" r="0.95" fill="#b2b2ba"/>
<circle cx="452.3" cy="306.5" r="0.95" fill="#b2b2ba"/>
<circle cx="448.3" cy="307.8" r="0.95" fill="#b2b2ba"/>
<circle cx="447.8" cy="302.5" r="0.95" fill="#b2b2ba"/>
<circle cx="449.2" cy="294.5" r="0.95" fill="#b2b2ba"/>
<circle cx="451.3" cy="321.7" r="0.95" fill="#b2b2ba"/>
<circle cx="451.9" cy="320.0" r="0.95" fill="#b2b2ba"/>
<circle cx="447.2" cy="313.9" r="0.95" fill="#b2b2ba"/>
<circle cx="447.9" cy="316.3" r="0.95" fill="#b2b2ba"/>
<circle cx="448.7" cy="313.0" r="0.95" fill="#b2b2ba"/>
<circle cx="449.2" cy="318.8" r="0.95" fill="#b2b2ba"/>
<circle cx="451.2" cy="314.4" r="0.95" fill="#b2b2ba"/>
<circle cx="448.9" cy="323.7" r="0.95" fill="#b2b2ba"/>
<circle cx="446.4" cy="311.0" r="0.95" fill="#b2b2ba"/>
<circle cx="446.4" cy="322.2" r="0.95" fill="#b2b2ba"/>
<circle cx="449.4" cy="333.9" r="0.95" fill="#b2b2ba"/>
<circle cx="450.1" cy="328.3" r="0.95" fill="#b2b2ba"/>
<circle cx="448.1" cy="324.3" r="0.95" fill="#b2b2ba"/>
<circle cx="447.8" cy="330.4" r="0.95" fill="#b2b2ba"/>
<line x1="332.9" y1="277.7515" x2="343.9" y2="277.7515" stroke="#d63c6e" stroke-width="1.2" />
<line x1="355.6" y1="272.0283" x2="366.6" y2="272.0283" stroke="#d63c6e" stroke-width="1.2" />
<line x1="377.8" y1="287.7671" x2="388.8" y2="287.7671" stroke="#3b4a8a" stroke-width="1.2" />
<line x1="399.8" y1="275.963" x2="410.8" y2="275.963" stroke="#d63c6e" stroke-width="1.2" />
<line x1="421.7" y1="288.8402" x2="432.7" y2="288.8402" stroke="#c23a3a" stroke-width="1.2" />
<line x1="444.0" y1="284.19010000000003" x2="455.0" y2="284.19010000000003" stroke="#d63c6e" stroke-width="1.2" />
<text transform="translate(337.6,355.8) rotate(-45)" font-size="8.0" text-anchor="end" fill="#231f20" stroke="#231f20" stroke-width="0.15"><tspan font-style="italic">All MLL(KMT2A)</tspan></text>
<text transform="translate(345.6,362.3) rotate(-45)" font-size="8.0" text-anchor="end" fill="#231f20" stroke="#231f20" stroke-width="0.15">fusions</text>
<text transform="translate(365.2,355.6) rotate(-45)" font-size="8.0" text-anchor="end" fill="#231f20" stroke="#231f20" stroke-width="0.15"><tspan font-style="italic">CBFB::MYH11</tspan></text>
<text transform="translate(387.3,354.3) rotate(-45)" font-size="8.0" text-anchor="end" fill="#231f20" stroke="#231f20" stroke-width="0.15"><tspan font-style="italic">RUNX1::RUNX1T1</tspan></text>
<text transform="translate(409.8,355.3) rotate(-45)" font-size="8.0" text-anchor="end" fill="#231f20" stroke="#231f20" stroke-width="0.15"><tspan font-style="italic">GATA2::MECOM</tspan></text>
<text transform="translate(433.0,355.2) rotate(-45)" font-size="8.0" text-anchor="end" fill="#231f20" stroke="#231f20" stroke-width="0.15"><tspan font-style="italic">PML::RARA</tspan></text>
<text transform="translate(456.0,355.7) rotate(-45)" font-size="8.0" text-anchor="end" fill="#231f20" stroke="#231f20" stroke-width="0.15">Other AML</text>
<rect x="0.6" y="0.6" width="518.8" height="408.8" fill="none" stroke="#555" stroke-width="1.2"/>
</svg>
</body></html>
